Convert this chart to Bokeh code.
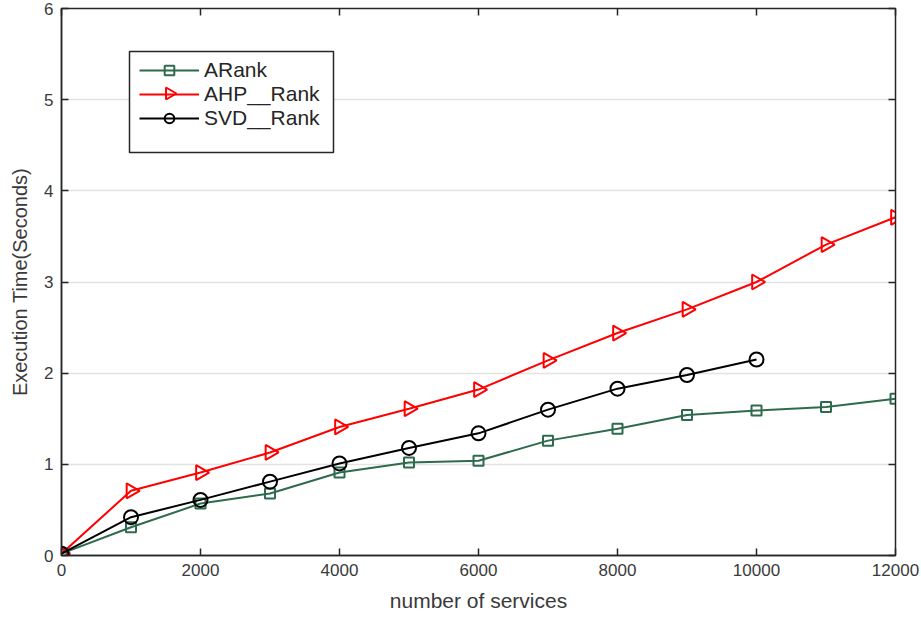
import math
from bokeh.plotting import figure
from bokeh.models import (Range1d, LinearAxis, Legend, LegendItem, FixedTicker,
                          CustomJSTickFormatter)
from bokeh.embed import file_html
from bokeh.resources import INLINE

services = [0, 1000, 2000, 3000, 4000, 5000, 6000, 7000, 8000, 9000, 10000, 11000, 12000]
arank = [0.02, 0.31, 0.57, 0.68, 0.91, 1.02, 1.04, 1.26, 1.39, 1.54, 1.59, 1.63, 1.72]
ahp_rank = [0.02, 0.71, 0.91, 1.13, 1.41, 1.61, 1.82, 2.14, 2.44, 2.70, 3.00, 3.41, 3.71]
svd_services = [0, 1000, 2000, 3000, 4000, 5000, 6000, 7000, 8000, 9000, 10000]
svd_rank = [0.02, 0.42, 0.61, 0.81, 1.01, 1.18, 1.34, 1.60, 1.83, 1.98, 2.15]

x_ticks = [0, 2000, 4000, 6000, 8000, 10000, 12000]
y_ticks = [0, 1, 2, 3, 4, 5, 6]

FONT = "Liberation Sans"
AXC = "#262626"
LBL = "#3a3a3a"
GREEN = "#2e6b4c"

FW, FH = 834, 547
XMAX, YMAX = 12000, 6

p = figure(frame_width=FW, frame_height=FH, output_backend="svg", toolbar_location=None,
           x_range=Range1d(0, XMAX), y_range=Range1d(0, YMAX),
           min_border_left=61, min_border_right=24, min_border_top=8, min_border_bottom=60)
p.background_fill_color = "white"
p.border_fill_color = "white"
p.outline_line_color = AXC
p.outline_line_width = 1.5

for ax in [p.xaxis[0], p.yaxis[0]]:
    ax.axis_line_color = AXC
    ax.axis_line_width = 1.5
    ax.major_tick_line_color = AXC
    ax.major_tick_line_width = 1.5
    ax.major_tick_in = 7
    ax.major_tick_out = 0
    ax.minor_tick_line_color = None
    ax.major_label_text_font = FONT
    ax.major_label_text_font_size = "17px"
    ax.major_label_text_color = LBL
    ax.axis_label_text_font = FONT
    ax.axis_label_text_font_style = "normal"
    ax.axis_label_text_color = LBL

p.xaxis[0].axis_label_text_font_size = "21px"
p.yaxis[0].axis_label_text_font_size = "20px"
p.xaxis[0].ticker = FixedTicker(ticks=x_ticks)
p.yaxis[0].ticker = FixedTicker(ticks=y_ticks)
p.xaxis[0].axis_label = "number of services"
p.yaxis[0].axis_label = "Execution Time(Seconds)"
p.xaxis[0].major_label_standoff = 8
p.yaxis[0].major_label_standoff = 8
p.xaxis[0].axis_label_standoff = 10
p.yaxis[0].axis_label_standoff = 10

blank = CustomJSTickFormatter(code="return ''")
top_ax = LinearAxis(ticker=FixedTicker(ticks=x_ticks), formatter=blank,
                    major_tick_in=7, major_tick_out=0, minor_tick_line_color=None,
                    axis_line_color=AXC, major_tick_line_color=AXC, major_tick_line_width=1.5,
                    major_label_standoff=0)
right_ax = LinearAxis(ticker=FixedTicker(ticks=y_ticks), formatter=blank,
                      major_tick_in=7, major_tick_out=0, minor_tick_line_color=None,
                      axis_line_color=AXC, major_tick_line_color=AXC, major_tick_line_width=1.5,
                      major_label_standoff=0)
p.add_layout(top_ax, "above")
p.add_layout(right_ax, "right")

p.xgrid.grid_line_color = None
p.ygrid.grid_line_color = "#e3e3e3"
p.ygrid.grid_line_width = 1.5
p.ygrid.ticker = FixedTicker(ticks=y_ticks)

# legend geometry in frame pixels (box from top-left of the frame)
BOX_X, BOX_TOP, BOX_W, BOX_H = 68, 43, 204, 101
PAD, ROW, GW = 6, 24, 60
LEG_X = BOX_X + 4
LEG_H = 2 * PAD + 3 * ROW
LEG_DX, LEG_DY = 6, 5  # measured offset of Bokeh's legend placement


def px_x(v):
    return v / FW * XMAX


def px_y(v_from_top):
    return (FH - v_from_top) / FH * YMAX


# legend frame (white box, drawn above the grid)
p.quad(left=[px_x(BOX_X)], right=[px_x(BOX_X + BOX_W)],
       top=[px_y(BOX_TOP)], bottom=[px_y(BOX_TOP + BOX_H)],
       fill_color="white", line_color=AXC, line_width=1.5)

l1 = p.line(services, arank, line_color=GREEN, line_width=2)
s1 = p.scatter(services, arank, marker="square", size=10, fill_color=None,
               line_color=GREEN, line_width=2)
l2 = p.line(services, ahp_rank, line_color="#ff0000", line_width=2)
s2 = p.scatter(services, ahp_rank, marker="triangle", size=15, angle=-math.pi / 2,
               fill_color=None, line_color="#ff0000", line_width=2)
l3 = p.line(svd_services, svd_rank, line_color="black", line_width=2)
s3 = p.scatter(svd_services, svd_rank, marker="circle", size=14, fill_color=None,
               line_color="black", line_width=2)

legend = Legend(items=[
    LegendItem(label="ARank", renderers=[l1, s1]),
    LegendItem(label="AHP__Rank", renderers=[l2]),
    LegendItem(label="SVD__Rank", renderers=[l3, s3]),
], location=(LEG_X + LEG_DX, FH - BOX_TOP - LEG_H + LEG_DY))
legend.glyph_width = GW
legend.glyph_height = ROW
legend.label_height = ROW
legend.label_width = 119
legend.label_standoff = 5
legend.spacing = 0
legend.padding = PAD
legend.margin = 0
legend.border_line_color = None
legend.background_fill_alpha = 0
legend.label_text_font = FONT
legend.label_text_font_size = "21px"
legend.label_text_color = "#262626"
p.add_layout(legend, "center")

# right-pointing legend key for AHP__Rank (legends never rotate markers)
p.scatter([px_x(LEG_X + PAD + GW / 2)], [px_y(BOX_TOP + PAD + ROW + ROW / 2)],
          marker="triangle", size=12, angle=-math.pi / 2, fill_color=None,
          line_color="#ff0000", line_width=2)

open("out.html", "w").write(file_html(p, INLINE))
